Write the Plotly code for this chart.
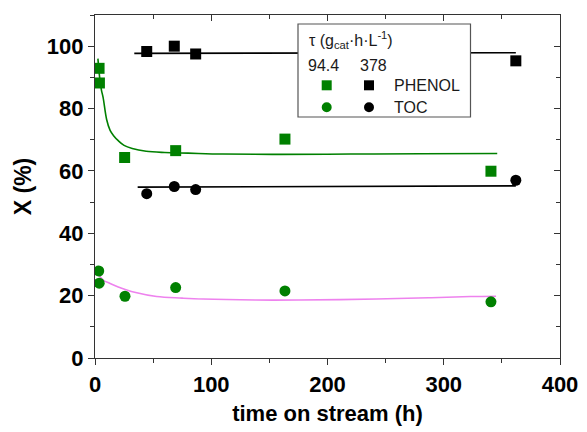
import plotly.graph_objects as go

# Data
phenol_378_x = [44.5, 68.2, 86.6, 362]
phenol_378_y = [98.3, 100.0, 97.5, 95.3]
toc_378_x = [44.5, 68.2, 86.6, 362]
toc_378_y = [52.7, 55.0, 54.0, 57.0]
phenol_94_x = [3.5, 3.8, 25.5, 69.4, 163.4, 340.6]
phenol_94_y = [92.9, 88.2, 64.3, 66.5, 70.2, 59.9]
toc_94_x = [3.2, 3.6, 25.8, 69.4, 163.4, 340.6]
toc_94_y = [27.9, 24.0, 19.8, 22.6, 21.5, 18.0]

fit_phenol_378_x = [33.8, 362]
fit_phenol_378_y = [97.7, 97.9]
fit_toc_378_x = [36.7, 200, 362]
fit_toc_378_y = [54.8, 55.0, 55.2]
fit_phenol_94_x = [2.5, 4, 5.5, 7, 10, 13, 16, 20, 25, 32, 44, 60, 80, 110, 160, 220, 280, 346]
fit_phenol_94_y = [96, 90, 86, 83.5, 76.5, 73, 71.3, 69.7, 68.2, 67.2, 66.3, 65.9, 65.7, 65.4, 65.3, 65.4, 65.5, 65.6]
fit_toc_94_x = [2.5, 7, 13, 20, 26, 35, 53, 75, 93, 138, 175, 242, 287, 323, 345]
fit_toc_94_y = [27, 25, 23.9, 22.8, 22, 21, 19.7, 19.2, 18.9, 18.6, 18.6, 18.9, 19.3, 19.7, 19.8]

GREEN = "#008000"
PINK = "#ee82ee"
BLACK = "#000000"

fig = go.Figure()
fig.add_trace(go.Scatter(x=fit_phenol_378_x, y=fit_phenol_378_y, mode="lines",
                         line=dict(color=BLACK, width=1.6)))
fig.add_trace(go.Scatter(x=fit_toc_378_x, y=fit_toc_378_y, mode="lines",
                         line=dict(color=BLACK, width=1.6)))
fig.add_trace(go.Scatter(x=fit_phenol_94_x, y=fit_phenol_94_y, mode="lines",
                         line=dict(color=GREEN, width=1.6, shape="spline")))
fig.add_trace(go.Scatter(x=fit_toc_94_x, y=fit_toc_94_y, mode="lines",
                         line=dict(color=PINK, width=1.6, shape="spline")))
fig.add_trace(go.Scatter(x=phenol_378_x, y=phenol_378_y, mode="markers",
                         marker=dict(symbol="square", size=11, color=BLACK)))
fig.add_trace(go.Scatter(x=toc_378_x, y=toc_378_y, mode="markers",
                         marker=dict(symbol="circle", size=11, color=BLACK)))
fig.add_trace(go.Scatter(x=phenol_94_x, y=phenol_94_y, mode="markers",
                         marker=dict(symbol="square", size=11, color=GREEN)))
fig.add_trace(go.Scatter(x=toc_94_x, y=toc_94_y, mode="markers",
                         marker=dict(symbol="circle", size=11, color=GREEN)))
# empty trace to bind mirror axes
fig.add_trace(go.Scatter(x=[], y=[], xaxis="x2", yaxis="y2"))

tickfont = dict(family="Liberation Sans", size=22, color="black", weight="bold")
axcol = "#333333"

# page body has an 8px default margin; compensate
fig.update_layout(
    width=579, height=424,
    margin=dict(l=87, r=27, t=7, b=74),
    paper_bgcolor="white", plot_bgcolor="white",
    showlegend=False,
    xaxis=dict(range=[0, 400], dtick=100, tick0=0, ticks="outside", ticklen=6,
               tickwidth=1, tickcolor=axcol, showline=True, linecolor=axcol,
               linewidth=1.2, showgrid=False, zeroline=False, tickfont=tickfont,
               automargin=False,
               minor=dict(dtick=50, ticks="outside", ticklen=4, tickcolor=axcol),
               title=dict(text="time on stream (h)", standoff=10,
                          font=dict(family="Liberation Sans", size=22, color="black", weight="bold"))),
    yaxis=dict(range=[0, 110], dtick=20, tick0=0, ticks="outside", ticklen=6,
               tickwidth=1, tickcolor=axcol, showline=True, linecolor=axcol,
               linewidth=1.2, showgrid=False, zeroline=False, tickfont=tickfont,
               automargin=False,
               minor=dict(dtick=10, ticks="outside", ticklen=4, tickcolor=axcol),
               title=dict(text="X (%)", standoff=8,
                          font=dict(family="Liberation Sans", size=23, color="black", weight="bold"))),
    xaxis2=dict(range=[0, 400], dtick=100, overlaying="x", side="top", anchor="y",
                ticks="inside", ticklen=6, tickcolor=axcol, showticklabels=False,
                automargin=False,
                showline=True, linecolor=axcol, linewidth=1.2, showgrid=False, zeroline=False,
                minor=dict(dtick=50, ticks="inside", ticklen=4, tickcolor=axcol)),
    yaxis2=dict(range=[0, 110], dtick=20, overlaying="y", side="right", anchor="x",
                ticks="inside", ticklen=6, tickcolor=axcol, showticklabels=False,
                automargin=False,
                showline=True, linecolor=axcol, linewidth=1.2, showgrid=False, zeroline=False,
                minor=dict(dtick=10, ticks="inside", ticklen=4, tickcolor=axcol)),
)

# Custom legend box (coordinates relative to plot area in reference pixels)
W, H = 465.0, 343.0
def px(x): return (x - 95) / W
def py(y): return (358 - y) / H

shapes = [dict(type="rect", xref="paper", yref="paper",
               x0=px(298), x1=px(470.5), y0=py(117), y1=py(24),
               line=dict(color="#555555", width=1.2), fillcolor="white", layer="above")]
s = 5.0
for cx, cy, kind, col in [(326.7, 85.3, "rect", GREEN), (369, 85.3, "rect", BLACK),
                          (326.7, 107.3, "circle", GREEN), (369, 107.3, "circle", BLACK)]:
    shapes.append(dict(type=kind, xref="paper", yref="paper",
                       x0=px(cx - s), x1=px(cx + s), y0=py(cy + s), y1=py(cy - s),
                       line=dict(color=col, width=0), fillcolor=col, layer="above"))
fig.update_layout(shapes=shapes)

lf = dict(family="Liberation Sans", size=16, color="#1a1a1a")
ann = [
    (307, 40, "τ (g<sub>cat</sub>·h·L<sup>-1</sup>)"),
    (306, 65, "94.4"),
    (358, 65, "378"),
    (392, 85.3, "PHENOL"),
    (392, 107.3, "TOC"),
]
for x, y, t in ann:
    fig.add_annotation(x=px(x), y=py(y), xref="paper", yref="paper", text=t,
                       showarrow=False, xanchor="left", yanchor="middle", font=lf)

fig.write_html("out.html")
